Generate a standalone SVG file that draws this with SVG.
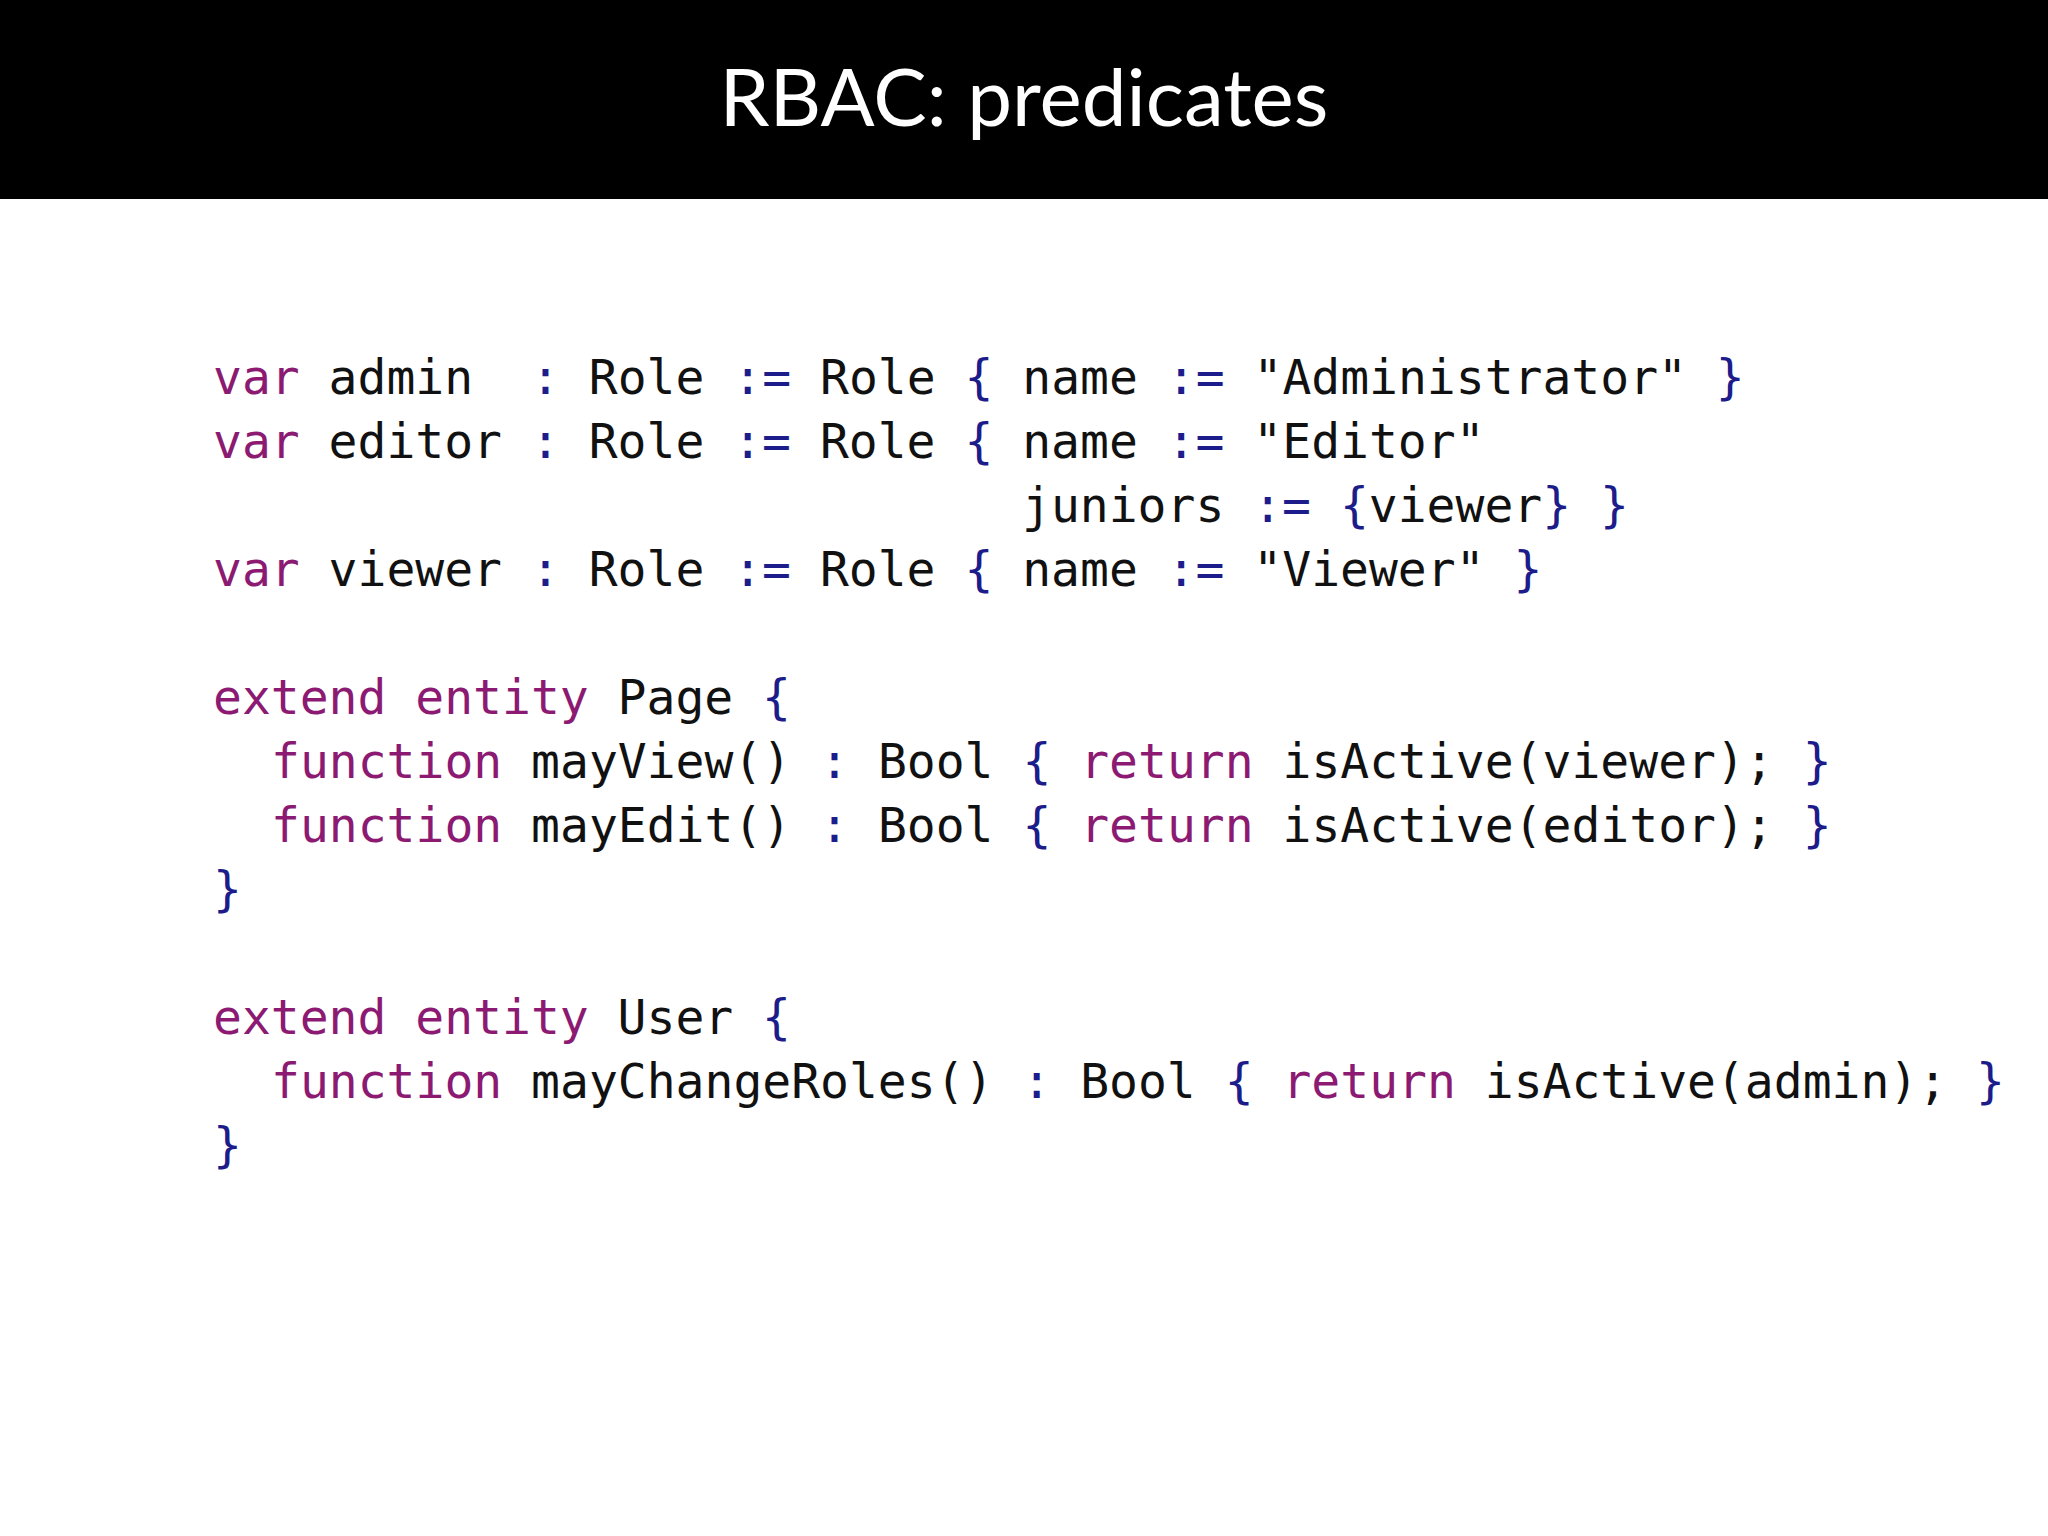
<svg xmlns="http://www.w3.org/2000/svg" width="2048" height="1536" viewBox="0 0 2048 1536">
<style>
.c{font-family:"DejaVu Sans Mono","Liberation Mono",monospace;font-size:48px;fill:#111}
.k{fill:#8c1a72}
.b{fill:#1c1c8a}
</style>
<rect width="2048" height="1536" fill="#fff"/>
<rect width="2048" height="199" fill="#000"/>
<text x="1024" y="126" text-anchor="middle" font-family="Lato,'Open Sans',sans-serif" font-size="80" fill="#fff">RBAC: predicates</text>
<g id="code" class="c">
<text x="213" y="394"><tspan class="k">var</tspan> admin</text>
<text x="531" y="394"><tspan class="b">:</tspan> Role <tspan class="b">:=</tspan> Role <tspan class="b">{</tspan> name <tspan class="b">:=</tspan> "Administrator" <tspan class="b">}</tspan></text>
<text x="213" y="458"><tspan class="k">var</tspan> editor <tspan class="b">:</tspan> Role <tspan class="b">:=</tspan> Role <tspan class="b">{</tspan> name <tspan class="b">:=</tspan> "Editor"</text>
<text x="1022" y="522">juniors <tspan class="b">:=</tspan> <tspan class="b">{</tspan>viewer<tspan class="b">}</tspan> <tspan class="b">}</tspan></text>
<text x="213" y="586"><tspan class="k">var</tspan> viewer <tspan class="b">:</tspan> Role <tspan class="b">:=</tspan> Role <tspan class="b">{</tspan> name <tspan class="b">:=</tspan> "Viewer" <tspan class="b">}</tspan></text>
<text x="213" y="714"><tspan class="k">extend entity</tspan> Page <tspan class="b">{</tspan></text>
<text x="271" y="778"><tspan class="k">function</tspan> mayView() <tspan class="b">:</tspan> Bool <tspan class="b">{</tspan> <tspan class="k">return</tspan> isActive(viewer); <tspan class="b">}</tspan></text>
<text x="271" y="842"><tspan class="k">function</tspan> mayEdit() <tspan class="b">:</tspan> Bool <tspan class="b">{</tspan> <tspan class="k">return</tspan> isActive(editor); <tspan class="b">}</tspan></text>
<text x="213" y="906"><tspan class="b">}</tspan></text>
<text x="213" y="1034"><tspan class="k">extend entity</tspan> User <tspan class="b">{</tspan></text>
<text x="271" y="1098"><tspan class="k">function</tspan> mayChangeRoles() <tspan class="b">:</tspan> Bool <tspan class="b">{</tspan> <tspan class="k">return</tspan> isActive(admin); <tspan class="b">}</tspan></text>
<text x="213" y="1162"><tspan class="b">}</tspan></text>
</g>
</svg>
